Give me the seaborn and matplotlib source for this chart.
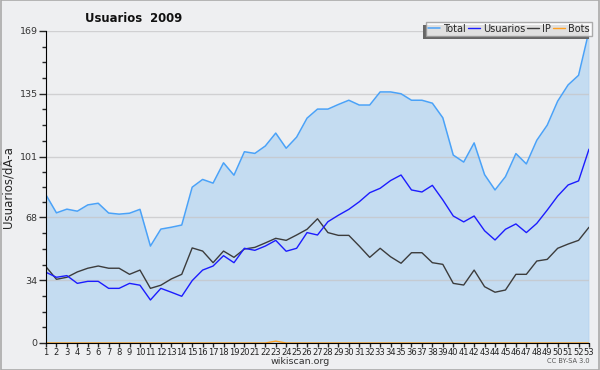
import numpy as np
import pandas as pd
import matplotlib
matplotlib.use('Agg')
import matplotlib.pyplot as plt
import seaborn as sns
from matplotlib.ticker import FixedLocator
from matplotlib.transforms import IdentityTransform

# Datos
dias = list(range(1, 54))
total = [80.2, 70.5, 72.5, 71.4, 74.8, 75.7, 70.4, 69.8, 70.3, 72.4,
         52.5, 61.7, 62.7, 63.9, 84.4, 88.6, 86.6, 97.6, 90.9, 103.6,
         102.7, 106.7, 113.7, 105.5, 111.5, 121.8, 126.7, 126.7, 129.2, 131.5,
         128.9, 128.9, 136.0, 136.0, 135.0, 131.5, 131.5, 129.9, 122.0, 101.8,
         98.0, 108.4, 91.2, 82.9, 90.1, 102.6, 97.0, 109.8, 118.0, 131.0,
         139.8, 145.0, 169.0]
usuarios = [38.3, 35.6, 36.5, 32.3, 33.4, 33.4, 29.6, 29.6, 32.3, 31.3,
            23.3, 29.6, 27.5, 25.3, 33.8, 39.5, 41.7, 47.3, 43.5, 51.3,
            50.2, 52.5, 55.6, 49.7, 51.3, 59.8, 58.5, 65.7, 69.2, 72.4,
            76.5, 81.4, 83.8, 88.0, 91.0, 82.9, 81.8, 85.4, 77.5, 68.8,
            65.6, 68.8, 60.8, 55.8, 61.6, 64.5, 59.8, 64.8, 72.0, 79.6,
            85.6, 87.8, 105.0]
ip = [41.3, 34.5, 35.6, 38.5, 40.5, 41.7, 40.5, 40.5, 37.2, 39.5,
      29.6, 31.3, 34.7, 37.2, 51.5, 49.8, 43.5, 49.8, 46.4, 50.9,
      51.8, 54.2, 56.7, 55.6, 58.5, 61.6, 67.3, 59.8, 58.3, 58.3,
      52.5, 46.4, 51.3, 46.7, 43.2, 48.9, 48.9, 43.5, 42.6, 32.3,
      31.4, 39.5, 30.5, 27.5, 28.7, 37.2, 37.2, 44.4, 45.3, 51.3,
      53.6, 55.6, 62.7]
bots = [0] * 21 + [0, 1, 0] + [0] * 29
yticks = [0, 34, 68, 101, 135, 169]

df = pd.DataFrame({'dia': dias, 'Total': total, 'Usuarios': usuarios,
                   'IP': ip, 'Bots': bots})

sns.set_style('white')
plt.rcParams['font.family'] = ['DejaVu Sans']

fondo = '#eeeff1'
fig = plt.figure(figsize=(6, 3.7), dpi=100, facecolor=fondo)
ax = fig.add_axes([46 / 600, 1 - 343 / 370, 543 / 600, 312 / 370])
ax.set_facecolor(fondo)

# grid
for v in yticks[1:]:
    ax.axhline(v, color='#c6c6c8', lw=1, zorder=3, alpha=0.75)

ax.fill_between(df['dia'], df['Total'], color='#c4dcf1', zorder=1, lw=0)
sns.lineplot(data=df, x='dia', y='Bots', color='#ffa020', lw=1, ax=ax,
             label='Bots', zorder=2)
sns.lineplot(data=df, x='dia', y='IP', color='#3c3c3c', lw=1, ax=ax,
             label='IP', zorder=4)
sns.lineplot(data=df, x='dia', y='Usuarios', color='#1c1cff', lw=1, ax=ax,
             label='Usuarios', zorder=5)
sns.lineplot(data=df, x='dia', y='Total', color='#4aa2f8', lw=1.1, ax=ax,
             label='Total', zorder=6)
ax.axvline(53, color='#9cc6ee', lw=1, zorder=2)

ax.set_xlim(1, 53)
ax.set_ylim(0, 169)
ax.set_xticks(dias)
ax.set_xticklabels([str(d) for d in dias], fontsize=6)
ax.set_yticks(yticks)
ax.set_yticklabels([str(v) for v in yticks], fontsize=6.8, color='#333333')
minors = []
for a, b in zip(yticks[:-1], yticks[1:]):
    minors += [a + (b - a) * k / 4 for k in (1, 2, 3)]
ax.yaxis.set_minor_locator(FixedLocator(minors))
ax.tick_params(axis='y', which='major', length=5, width=1, pad=1, left=True)
ax.tick_params(axis='y', which='minor', length=3, width=1, left=True)
ax.tick_params(axis='x', which='major', length=3, width=1, pad=0.5,
               bottom=True, labelcolor='#222222')
for s in ['top', 'right']:
    ax.spines[s].set_visible(False)
ax.spines['left'].set_color('black')
ax.spines['bottom'].set_color('black')
ax.spines['left'].set_zorder(7)
ax.spines['bottom'].set_zorder(7)
ax.set_xlabel('')
ax.set_ylabel('Usuarios/dÃ-a', fontsize=8.5, labelpad=3)

fig.text(85 / 600, 1 - 18 / 370, 'Usuarios  2009', fontsize=8.4,
         fontweight='bold', va='center', ha='left', color='#111111')

h, l = ax.get_legend_handles_labels()
orden = [l.index(n) for n in ['Total', 'Usuarios', 'IP', 'Bots']]
leg = ax.legend([h[i] for i in orden], [l[i] for i in orden], ncol=4,
                loc='lower right', bbox_to_anchor=(1.005, 0.985),
                fontsize=7, frameon=True, fancybox=False, shadow=False,
                handlelength=1.2, handletextpad=0.35, columnspacing=0.2,
                borderpad=0.2, borderaxespad=0)
leg.get_frame().set_edgecolor('#999999')
leg.get_frame().set_facecolor('white')
leg.get_frame().set_linewidth(1)
leg.set_zorder(10)

# sombra de la leyenda (abajo a la izquierda)
fig.canvas.draw()
bb = leg.get_window_extent()
sombra = plt.Rectangle((bb.x0 - 3, bb.y0 - 3), bb.width, bb.height,
                       transform=IdentityTransform(), facecolor='#666666',
                       edgecolor='none', zorder=9, clip_on=False)
ax.add_artist(sombra)

fig.text(0.5, 1 - 362 / 370, 'wikiscan.org', fontsize=6.8, ha='center',
         va='center', color='#333333')
fig.text(590 / 600, 1 - 361 / 370, 'CC BY-SA 3.0', fontsize=4.8,
         ha='right', va='center', color='#555555')

borde = plt.Rectangle((0.001, 0.001), 0.998, 0.998, transform=fig.transFigure,
                      fill=False, edgecolor='#aaaaaa', lw=1.2)
fig.patches.append(borde)

fig.savefig('out.png', dpi=100, facecolor=fondo)
